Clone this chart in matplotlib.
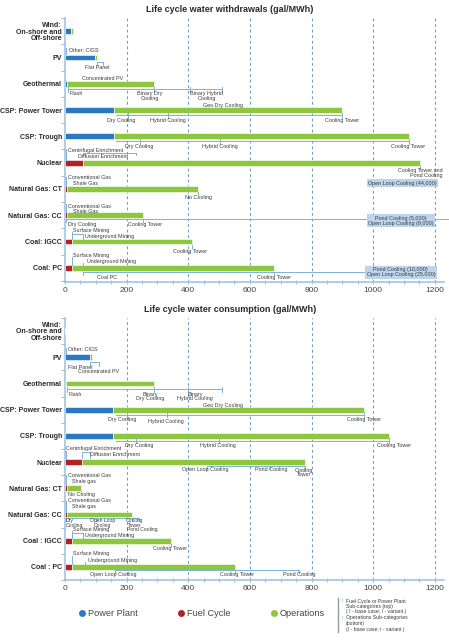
import matplotlib
matplotlib.use("Agg")
import matplotlib.pyplot as plt
from matplotlib import font_manager
import numpy as np

plt.rcParams['font.family'] = ['Liberation Sans', 'DejaVu Sans']

# ---------------- data ----------------
categories_w = ["Wind:\nOn-shore and\nOff-shore", "PV", "Geothermal", "CSP: Power Tower",
                "CSP: Trough", "Nuclear", "Natural Gas: CT", "Natural Gas: CC",
                "Coal: IGCC", "Coal: PC"]
categories_c = ["Wind:\nOn-shore and\nOff-shore", "PV", "Geothermal", "CSP: Power Tower",
                "CSP: Trough", "Nuclear", "Natural Gas: CT", "Natural Gas: CC",
                "Coal : IGCC", "Coal : PC"]

# withdrawals (gal/MWh) - stacked segments
withdraw_power_plant = [20, 97, 5, 159, 159, 0, 0, 0, 0, 0]
withdraw_fuel_cycle = [0, 0, 0, 0, 0, 59, 8, 8, 22, 22]
withdraw_operations = [5, 6, 283, 739, 958, 1092, 424, 246, 391, 656]

# consumption (gal/MWh) - stacked segments
consume_power_plant = [0, 81, 3, 157, 157, 0, 0, 0, 0, 0]
consume_fuel_cycle = [0, 0, 0, 0, 0, 54, 7, 7, 22, 22]
consume_operations = [0, 6, 286, 813, 894, 724, 45, 209, 321, 531]

x_ticks = [0, 200, 400, 600, 800, 1000, 1200]
legend_labels = ["Power Plant", "Fuel Cycle", "Operations"]

# sub-category values (gal/MWh) used for range brackets
w_geo_sub = [10, 288, 405, 510]
w_pt_sub = [204, 334, 898]
w_trough_sub = [243, 503, 1117]
w_ngcc_sub = [3, 254]
c_pv_sub = [81, 110]
c_geo_sub = [5, 289, 400, 509]
c_pt_sub = [200, 330, 970]
c_trough_sub = [230, 500, 1051]
c_nuc_sub = [460, 665, 778]
c_ngcc_sub = [3, 100, 216, 240]
c_pc_sub = [162, 553, 760]

# ---------------- style ----------------
BLUE = '#2b78c2'
RED = '#b52025'
GREEN = '#8dc63f'
SPINE = '#9cbfdc'
GRID = '#6f9cc6'
BRK = '#7fb2da'
TXT = '#3a3a3a'
BOX = '#bcd5ec'

_names = {f.name for f in font_manager.fontManager.ttflist}
if 'Liberation Sans Narrow' in _names:
    CAT_FAMILY = ['Liberation Sans Narrow', 'DejaVu Sans']
    CAT_SIZE = 6.2
else:
    CAT_FAMILY = ['Liberation Sans', 'DejaVu Sans']
    CAT_SIZE = 5.05

W, H = 449, 641
fig = plt.figure(figsize=(W / 100, H / 100), dpi=100)

X_LEFT = 65
X_RIGHT = 444
XMAX = 1230


def make_axes(top_px, bottom_px):
    ax = fig.add_axes([X_LEFT / W, 1 - bottom_px / H, (X_RIGHT - X_LEFT) / W,
                       (bottom_px - top_px) / H])
    return ax


def style_axes(ax, cats, ylim):
    ax.set_xlim(0, XMAX)
    ax.set_ylim(*ylim)
    for s in ['top', 'right']:
        ax.spines[s].set_visible(False)
    for s in ['left', 'bottom']:
        ax.spines[s].set_color(SPINE)
        ax.spines[s].set_linewidth(1.1)
    ax.set_yticks(range(len(cats)))
    ax.set_yticklabels(cats, fontsize=CAT_SIZE, fontweight='bold', color='#2a2a2a',
                       linespacing=0.95, family=CAT_FAMILY)
    ax.set_yticks(np.arange(-0.5, len(cats) - 0.4, 1.0), minor=True)
    ax.tick_params(axis='y', which='major', length=0, pad=2.2)
    ax.tick_params(axis='y', which='minor', length=3, color=SPINE, width=0.8)
    ax.set_xticks(x_ticks)
    ax.set_xticklabels([str(t) for t in x_ticks], fontsize=6, color='#444444')
    ax.set_xticks(np.arange(0, 1201, 50), minor=True)
    ax.tick_params(axis='x', which='both', length=2.5, color=SPINE, width=0.7,
                   direction='inout', pad=2)
    for t in x_ticks[1:]:
        ax.axvline(t, color=GRID, lw=0.8, ls=(0, (2.5, 2.5)), zorder=0)


def draw_bars(ax, pp, fc, op):
    y = np.arange(len(pp))
    h = 0.22
    ax.barh(y, pp, height=h, color=BLUE, edgecolor='white', linewidth=0.4, zorder=3)
    ax.barh(y, fc, left=pp, height=h, color=RED, edgecolor='white', linewidth=0.4, zorder=3)
    left = np.array(pp) + np.array(fc)
    ax.barh(y, op, left=left, height=h, color=GREEN, edgecolor='white', linewidth=0.4,
            zorder=3)


def note(ax, sp, cat, x, dy, label, ha='left', size=3.9):
    ax.text(x, cat + dy / sp, label, fontsize=size, ha=ha, va='center', color=TXT,
            linespacing=0.9, clip_on=False, zorder=5)


def bracket(ax, sp, cat, dy, ticks, x_end=None, up=2.5, down=2.5, x_start=None):
    y = cat + dy / sp
    x0 = min(ticks) if x_start is None else x_start
    x1 = max(ticks) if x_end is None else x_end
    ax.plot([x0, x1], [y, y], color=BRK, lw=0.7, clip_on=False, zorder=4)
    for t in ticks:
        ax.plot([t, t], [y - up / sp, y + down / sp], color=BRK, lw=0.7,
                clip_on=False, zorder=4)


def vline(ax, sp, cat, x, dy0, dy1):
    ax.plot([x, x], [cat + dy0 / sp, cat + dy1 / sp], color=BRK, lw=0.7,
            clip_on=False, zorder=4)


def box(ax, sp, cat, x, dy, label):
    ax.text(x, cat + dy / sp, label, fontsize=3.9, ha='center', va='center', color=TXT,
            linespacing=1.0, zorder=6, clip_on=False,
            bbox=dict(boxstyle='square,pad=0.25', fc=BOX, ec='none'))


# ---------------- top: withdrawals ----------------
SP1 = 26.3
ax1 = make_axes(18, 282)
style_axes(ax1, categories_w, (9.54, -0.49))
draw_bars(ax1, withdraw_power_plant, withdraw_fuel_cycle, withdraw_operations)

# PV
note(ax1, SP1, 1, 13, -7, "Other: CIGS")
vline(ax1, SP1, 1, 3, -9, -3)
note(ax1, SP1, 1, 65, 10, "Flat Panel")
bracket(ax1, SP1, 1, 4.5, [103, 124], up=0, down=3)
note(ax1, SP1, 1, 55, 21, "Concentrated PV")
# Geothermal
bracket(ax1, SP1, 2, 5.5, w_geo_sub)
note(ax1, SP1, 2, 13, 9.5, "Flash")
note(ax1, SP1, 2, 276, 12.5, "Binary Dry\nCooling", ha='center')
note(ax1, SP1, 2, 460, 12.5, "Binary Hybrid\nCooling", ha='center')
note(ax1, SP1, 2, 448, 21.5, "Geo Dry Cooling")
# CSP Power Tower
bracket(ax1, SP1, 3, 5, w_pt_sub, x_start=164)
note(ax1, SP1, 3, 136, 10, "Dry Cooling")
note(ax1, SP1, 3, 276, 10, "Hybrid Cooling")
note(ax1, SP1, 3, 843, 10, "Cooling Tower")
# CSP Trough
bracket(ax1, SP1, 4, 5, w_trough_sub, x_start=164)
note(ax1, SP1, 4, 195, 10, "Dry Cooling")
note(ax1, SP1, 4, 444, 10, "Hybrid Cooling")
note(ax1, SP1, 4, 1057, 10, "Cooling Tower")
# Nuclear
note(ax1, SP1, 5, 10, -12.5, "Centrifugal Enrichment")
note(ax1, SP1, 5, 42, -6.5, "Diffusion Enrichment")
vline(ax1, SP1, 5, 3, -14, -3)
bracket(ax1, SP1, 5, -9.5, [59, 232], up=0, down=2)
note(ax1, SP1, 5, 1226, 10.5, "Cooling Tower and\nPond Cooling", ha='right')
vline(ax1, SP1, 5, 1151, 3, 6)
box(ax1, SP1, 5, 1096, 20.5, "Open Loop Cooling (44,000)")
# Natural gas CT
note(ax1, SP1, 6, 10, -11, "Conventional Gas")
note(ax1, SP1, 6, 26, -5, "Shale Gas")
vline(ax1, SP1, 6, 3, -12, -3)
note(ax1, SP1, 6, 389, 9, "No Cooling")
vline(ax1, SP1, 6, 432, 3, 6)
# Natural gas CC
note(ax1, SP1, 7, 10, -9, "Conventional Gas")
note(ax1, SP1, 7, 26, -4, "Shale Gas")
vline(ax1, SP1, 7, 3, -11, -3)
bracket(ax1, SP1, 7, 4, w_ngcc_sub, x_end=1245, up=0, down=3)
note(ax1, SP1, 7, 10, 9, "Dry Cooling")
note(ax1, SP1, 7, 204, 9, "Cooling Tower")
box(ax1, SP1, 7, 1090, 5.5, "Pond Cooling (5,000)\nOpen Loop Cooling (9,000)")
# Coal IGCC
note(ax1, SP1, 8, 26, -11.5, "Surface Mining")
note(ax1, SP1, 8, 65, -5.5, "Underground Mining")
vline(ax1, SP1, 8, 22, -10, -3)
bracket(ax1, SP1, 8, -8, [22, 60], up=0, down=5)
note(ax1, SP1, 8, 350, 9.5, "Cooling Tower")
vline(ax1, SP1, 8, 413, 3, 6)
# Coal PC
note(ax1, SP1, 9, 26, -12.5, "Surface Mining")
note(ax1, SP1, 9, 71, -6.5, "Underground Mining")
vline(ax1, SP1, 9, 22, -11, -3)
vline(ax1, SP1, 9, 60, -5, -3)
note(ax1, SP1, 9, 104, 9.5, "Coal PC")
note(ax1, SP1, 9, 623, 9.5, "Cooling Tower")
bracket(ax1, SP1, 9, 4, [60, 678], x_end=1030, up=0, down=3)
box(ax1, SP1, 9, 1090, 4.5, "Pond Cooling (10,000)\nOpen Loop Cooling (25,000)")

# ---------------- bottom: consumption ----------------
SP2 = 26.6
ax2 = make_axes(318, 580)
style_axes(ax2, categories_c, (9.44, -0.42))
draw_bars(ax2, consume_power_plant, consume_fuel_cycle, consume_operations)

# PV
note(ax2, SP2, 1, 10, -7.5, "Other: CIGS")
vline(ax2, SP2, 1, 3, -9, -3)
bracket(ax2, SP2, 1, 4.5, c_pv_sub, up=0, down=4)
note(ax2, SP2, 1, 10, 10.5, "Flat Panel")
note(ax2, SP2, 1, 42, 14.5, "Concentrated PV")
# Geothermal
bracket(ax2, SP2, 2, 6, c_geo_sub)
note(ax2, SP2, 2, 10, 11, "Flash")
note(ax2, SP2, 2, 276, 13, "Binary\nDry Cooling", ha='center')
note(ax2, SP2, 2, 422, 13, "Binary\nHybrid Cooling", ha='center')
note(ax2, SP2, 2, 448, 22, "Geo Dry Cooling")
# CSP PT
bracket(ax2, SP2, 3, 5, c_pt_sub, x_start=164)
note(ax2, SP2, 3, 139, 10, "Dry Cooling")
note(ax2, SP2, 3, 269, 12, "Hybrid Cooling")
note(ax2, SP2, 3, 915, 10, "Cooling Tower")
# CSP trough
bracket(ax2, SP2, 4, 5, c_trough_sub, x_start=164)
note(ax2, SP2, 4, 195, 9.5, "Dry Cooling")
note(ax2, SP2, 4, 438, 9.5, "Hybrid Cooling")
note(ax2, SP2, 4, 1012, 9.5, "Cooling Tower")
# Nuclear
note(ax2, SP2, 5, 3, -14, "Centrifugal Enrichment")
note(ax2, SP2, 5, 81, -8, "Diffusion Enrichment")
vline(ax2, SP2, 5, 3, -11, -3)
bracket(ax2, SP2, 5, -10.5, [54, 81], up=0, down=6)
bracket(ax2, SP2, 5, 4, c_nuc_sub, up=0, down=2.5)
note(ax2, SP2, 5, 380, 7.5, "Open Loop Cooling")
note(ax2, SP2, 5, 616, 7.5, "Pond Cooling")
note(ax2, SP2, 5, 775, 10.5, "Cooling\nTower", ha='center')
# NG CT
note(ax2, SP2, 6, 10, -13.5, "Conventional Gas")
note(ax2, SP2, 6, 23, -6.5, "Shale gas")
vline(ax2, SP2, 6, 3, -14, -3)
note(ax2, SP2, 6, 10, 6, "No Cooling")
vline(ax2, SP2, 6, 52, 3, 5)
# NG CC
note(ax2, SP2, 7, 10, -14, "Conventional Gas")
note(ax2, SP2, 7, 23, -8, "Shale gas")
vline(ax2, SP2, 7, 3, -14, -3)
bracket(ax2, SP2, 7, 3.5, c_ngcc_sub, up=0, down=3)
note(ax2, SP2, 7, 2, 8.5, "Dry\nCooling", size=3.6)
note(ax2, SP2, 7, 122, 8.5, "Open Loop\nCooling", ha='center', size=3.6)
note(ax2, SP2, 7, 226, 8.5, "Cooling\nTower", ha='center', size=3.6)
note(ax2, SP2, 7, 200, 15, "Pond Cooling", size=3.6)
# IGCC
note(ax2, SP2, 8, 26, -11, "Surface Mining")
note(ax2, SP2, 8, 65, -5, "Underground Mining")
vline(ax2, SP2, 8, 22, -9.5, -3)
bracket(ax2, SP2, 8, -7.5, [22, 60], up=0, down=4.5)
note(ax2, SP2, 8, 285, 7.5, "Cooling Tower")
vline(ax2, SP2, 8, 343, 3, 6)
# PC
note(ax2, SP2, 9, 26, -13.5, "Surface Mining")
note(ax2, SP2, 9, 75, -6.5, "Underground Mining")
vline(ax2, SP2, 9, 22, -11, -3)
vline(ax2, SP2, 9, 65, -5, -3)
bracket(ax2, SP2, 9, 3, c_pc_sub, up=0, down=3)
note(ax2, SP2, 9, 81, 7.5, "Open Loop Cooling")
note(ax2, SP2, 9, 503, 7.5, "Cooling Tower")
note(ax2, SP2, 9, 707, 7.5, "Pond Cooling")

# ---------------- overlay: titles & legend ----------------
ov = fig.add_axes([0, 0, 1, 1], facecolor='none')
ov.set_xlim(0, W)
ov.set_ylim(H, 0)
ov.axis('off')
ov.text(230, 9, "Life cycle water withdrawals (gal/MWh)", fontsize=6.5,
        fontweight='bold', ha='center', va='center', color='#2a2a2a')
ov.text(230, 309, "Life cycle water consumption (gal/MWh)", fontsize=6.5,
        fontweight='bold', ha='center', va='center', color='#2a2a2a')

leg_x = [82, 181, 274]
for lx, lab, col in zip(leg_x, legend_labels, [BLUE, RED, GREEN]):
    ov.plot([lx], [613], marker='o', ms=5, color=col, mec='none')
    ov.text(lx + 6, 613, lab, fontsize=6.6, ha='left', va='center', color='#444444')

ov.plot([338, 338], [598, 632], color='#999999', lw=1.0)
leg_lines = [
    (342, 601, "I", BRK), (346, 601, "Fuel Cycle or Power Plant", TXT),
    (346, 606.5, "Sub-categories (top)", TXT),
    (346, 612, "( I - base case; I - variant )", TXT),
    (342, 618, "I", BRK), (346, 618, "Operations Sub-categories", TXT),
    (346, 623.5, "(bottom)", TXT),
    (346, 629, "(I - base case; i - variant )", TXT),
]
for lx, ly, t, c in leg_lines:
    ov.text(lx, ly, t, fontsize=3.7, ha='left', va='center', color=c)

fig.savefig("out.png", dpi=100)
